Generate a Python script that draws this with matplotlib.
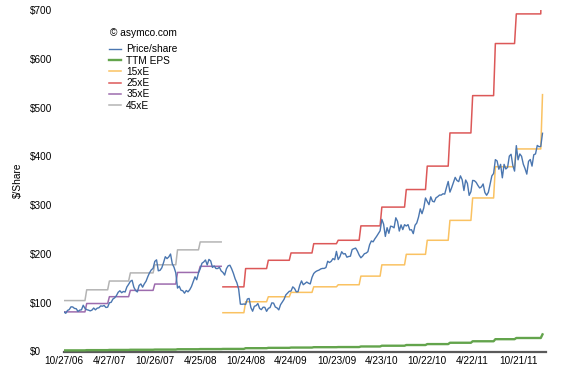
import numpy as np
import matplotlib
matplotlib.use("Agg")
import matplotlib.pyplot as plt

plt.rcParams['font.family'] = ['Liberation Sans', 'DejaVu Sans']

# ---------------- data ----------------
tick_labels = ['10/27/06', '4/27/07', '10/26/07', '4/25/08', '10/24/08', '4/24/09',
               '10/23/09', '4/23/10', '10/22/10', '4/22/11', '10/21/11']
tick_weeks = [0, 26, 52, 78, 104, 130, 156, 182, 208, 234, 260]

# weekly closing price, starting 10/27/06
price_2006 = [80.9, 78.3, 84.1, 85.9, 91.6, 91.3, 88.3, 87.7, 82.2, 84.8]
price_2007 = [85.4, 94.8, 88.5, 85.7, 84.8, 83.3, 84.8, 89.1, 85.4, 88.8, 89.6, 93.5, 92.9,
              94.3, 90.2, 90.9, 99.9, 100.8, 107.5, 110.0, 114.4, 121.3, 124.5, 120.5, 123.0,
              122.0, 132.3, 137.7, 143.8, 146.0, 131.8, 125.0, 122.1, 135.3, 138.5, 131.8,
              138.8, 144.2, 153.5, 161.5, 167.3, 170.4, 184.7, 187.9, 165.4, 166.4, 171.5,
              182.2, 194.3, 190.4, 193.9, 199.8]
price_2008 = [180.0, 172.7, 161.4, 130.0, 133.8, 125.5, 124.6, 119.5, 125.0, 122.3, 126.6,
              133.3, 143.0, 153.1, 147.1, 161.0, 169.7, 180.9, 183.5, 187.6, 177.4, 188.8,
              185.6, 172.4, 175.3, 170.1, 170.1, 172.6, 165.2, 162.1, 156.7, 169.6, 175.7,
              176.8, 169.5, 160.2, 148.9, 140.9, 128.2, 97.1, 96.8, 97.4, 96.4, 107.6, 108.7,
              90.2, 82.6, 92.7, 94.0, 98.3, 88.2, 85.8]
price_2009 = [90.8, 90.6, 82.3, 88.4, 90.1, 99.7, 99.2, 91.2, 89.3, 85.3, 95.9, 101.6, 106.9,
              115.9, 119.6, 123.4, 123.9, 132.5, 129.2, 122.4, 122.5, 135.8, 144.7, 136.9,
              139.5, 142.4, 140.0, 138.5, 151.8, 159.9, 163.4, 165.5, 166.8, 169.2, 170.3,
              170.3, 172.2, 185.0, 182.4, 184.9, 190.5, 188.1, 205.2, 188.5, 194.3, 204.5,
              199.9, 200.6, 193.3, 194.7, 195.4, 209.0]
price_2010 = [210.7, 212.0, 205.9, 197.8, 192.1, 195.5, 200.4, 201.7, 204.6, 218.9, 226.6,
              224.8, 230.9, 236.0, 241.8, 247.4, 270.8, 261.1, 235.9, 253.8, 242.3, 256.9,
              256.0, 253.5, 274.1, 266.7, 246.9, 259.6, 249.9, 259.9, 257.3, 260.1, 249.1,
              249.6, 241.6, 258.8, 263.4, 275.4, 292.3, 282.5, 294.1, 314.7, 307.5, 301.0,
              317.1, 308.0, 306.7, 315.0, 317.4, 320.6, 320.6, 323.3, 322.6]
price_2011 = [336.1, 348.5, 326.7, 336.1, 346.5, 356.9, 350.6, 348.2, 360.0, 352.0, 330.0,
              351.5, 344.6, 320.0, 327.5, 350.7, 350.1, 346.7, 340.5, 335.2, 337.4, 343.4,
              325.9, 320.3, 326.4, 343.3, 360.0, 364.9, 393.3, 390.5, 373.6, 383.6, 356.0,
              383.6, 374.1, 377.5, 400.5, 404.3, 381.3, 369.8, 422.0, 392.9, 405.0, 400.2,
              384.0, 374.9, 363.6, 389.7, 393.6, 380.0, 403.3, 405.0]
price_2012 = [422.4, 419.8, 420.3, 447.3]

# trailing-twelve-month EPS and the week each value takes effect
eps_step_weeks = [0, 13, 26, 38, 52, 65, 78, 91, 104, 117, 130, 143, 157, 170, 182, 196,
                  208, 221, 234, 247, 259, 274]
ttm_eps = [2.32, 2.81, 3.21, 3.58, 3.95, 4.63, 4.99, 5.30, 6.80, 7.48, 8.08, 8.84, 9.12,
           10.30, 11.84, 13.28, 15.20, 17.92, 20.98, 25.25, 27.68, 35.10]

high_multiples = [35, 45]   # shown up to week 90
low_multiples = [15, 25]    # shown from week 91
split_week = 91

# ---------------- build ----------------
price = np.array(price_2006 + price_2007 + price_2008 + price_2009 +
                 price_2010 + price_2011 + price_2012)
weeks = np.arange(len(price))
durations = np.diff(eps_step_weeks + [len(price)])
eps_weekly = np.repeat(ttm_eps, durations)

c_price = '#4a76b0'
c_eps = '#63a44c'
c_15 = '#fac262'
c_25 = '#dc5858'
c_35 = '#9d6cae'
c_45 = '#b4b4b4'

W, H = 562, 376
fig = plt.figure(figsize=(W / 100, H / 100), dpi=100)
ax_left, ax_right, ax_top, ax_bottom = 64, 546, 10, 351.5
ax = fig.add_axes([ax_left / W, (H - ax_bottom) / H,
                   (ax_right - ax_left) / W, (ax_bottom - ax_top) / H])

lo = weeks >= split_week
hi = weeks < split_week
ax.plot(weeks, price, color=c_price, lw=1.0, label='Price/share', zorder=6)
ax.plot(weeks, eps_weekly, color=c_eps, lw=1.7, label='TTM EPS', zorder=5)
ax.plot(weeks[lo], low_multiples[0] * eps_weekly[lo], color=c_15, lw=1.1, label='15xE', zorder=4)
ax.plot(weeks[lo], low_multiples[1] * eps_weekly[lo], color=c_25, lw=1.1, label='25xE', zorder=4)
ax.plot(weeks[hi], high_multiples[0] * eps_weekly[hi], color=c_35, lw=1.1, label='35xE', zorder=4)
ax.plot(weeks[hi], high_multiples[1] * eps_weekly[hi], color=c_45, lw=1.1, label='45xE', zorder=4)

ax.set_xlim(0, 276)
ax.set_ylim(0, 700)

for s in ['left', 'right', 'top']:
    ax.spines[s].set_visible(False)
ax.spines['bottom'].set_color('#5a5a5a')
ax.spines['bottom'].set_linewidth(1.6)
ax.spines['bottom'].set_zorder(3)

ax.set_xticks(tick_weeks)
ax.set_xticklabels(tick_labels)
yt = list(range(0, 701, 100))
ax.set_yticks(yt)
ax.set_yticklabels(['$' + str(v) for v in yt])
ax.tick_params(axis='x', length=0, pad=3.6, labelsize=7.2, colors='black')
ax.tick_params(axis='y', length=0, pad=(ax_left - 30) * 0.72, labelsize=7.2, colors='black')
for lab in ax.get_yticklabels():
    lab.set_horizontalalignment('left')

ax.set_ylabel('$/Share', fontsize=7.3)
ax.yaxis.set_label_coords((18 - ax_left) / (ax_right - ax_left), 0.5)
ax.yaxis.label.set_verticalalignment('center')

fig.text(110 / W, 1 - 33 / H, '© asymco.com', fontsize=7.3, va='center', ha='left')
leg = ax.legend(loc='upper left', bbox_to_anchor=(109 / W, 1 - 44.5 / H),
                bbox_transform=fig.transFigure, frameon=False, borderpad=0,
                borderaxespad=0, handlelength=1.2, handletextpad=0.5,
                labelspacing=0.12, fontsize=7.3)
for t in leg.get_texts():
    t.set_horizontalalignment('left')

fig.savefig('out.png', dpi=100)
